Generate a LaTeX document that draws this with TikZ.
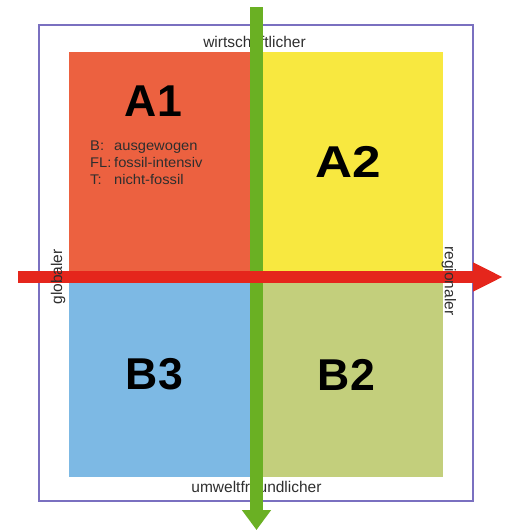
\documentclass[tikz,border=0pt]{standalone}
\usepackage{fontspec}
\setmainfont{Liberation Sans}
\newfontfamily\legfont[FakeStretch=1.05]{Liberation Sans}
\usetikzlibrary{arrows.meta}
\definecolor{frameC}{HTML}{7A70C0}
\definecolor{qA1}{HTML}{EC6140}
\definecolor{qA2}{HTML}{F8E840}
\definecolor{qB3}{HTML}{7DB9E4}
\definecolor{qB2}{HTML}{C3CF7C}
\definecolor{greenC}{HTML}{6AB023}
\definecolor{redC}{HTML}{E5261C}
\definecolor{txtC}{HTML}{2E2E2E}
\tikzset{
  big/.style={font=\fontsize{44.6}{46}\selectfont\bfseries, text=black, inner sep=0pt},
  axislbl/.style={font=\fontsize{15.5}{16}\selectfont, text=txtC, inner sep=0pt},
  legend/.style={font=\legfont\fontsize{14}{17}\selectfont, text=txtC, inner sep=0pt, anchor=base west},
  greenarrow/.style={draw=greenC, line width=13pt, -{Triangle[width=28pt,length=20pt]}},
  redarrow/.style={draw=redC, line width=12pt, -{Triangle[width=27pt,length=30pt]}},
}
\newcommand{\legkey}[1]{\makebox[24pt][l]{#1}}
\begin{document}
\begin{tikzpicture}[x=1pt,y=-1pt]
\useasboundingbox (0,0) rectangle (508,530);
% frame
\draw[frameC, line width=1.6pt] (39,25) rectangle (473,501);
% quadrants
\fill[qA1] (69,52) rectangle (256,279);
\fill[qA2] (256,52) rectangle (443,279);
\fill[qB3] (69,279) rectangle (256,477);
\fill[qB2] (256,279) rectangle (443,477);
% axis labels (under the green arrow)
\node[axislbl] (top) at (254.5,42) {wirtschaftlicher};
\node[axislbl] (bottom) at (256.5,487) {umweltfreundlicher};
% quadrant labels
\node[big] (A1) at (153.5,101) {A1};
\node[big] (A2) at (348.5,161.5) {\scalebox{1.15}[1]{A2}};
\node[big] (B3) at (154.5,374.5) {B3};
\node[big] (B2) at (346.5,374.5) {B2};
% legend
\node[legend] (leg1) at (90,150) {\legkey{B:}ausgewogen};
\node[legend] (leg2) at (90,167) {\legkey{FL:}fossil-intensiv};
\node[legend] (leg3) at (90,184) {\legkey{T:}nicht-fossil};
% arrows
\coordinate (gS) at (256.5,7);
\coordinate (gE) at (256.5,530);
\coordinate (rS) at (18,277);
\coordinate (rE) at (503,277);
\draw[greenarrow] (gS) -- (gE);
\draw[redarrow] (rS) -- (rE);
% side labels (over the red arrow)
\node[axislbl, rotate=90] (left) at (58,277) {globaler};
\node[axislbl, rotate=-90] (right) at (449,281) {regionaler};
\end{tikzpicture}
\end{document}
